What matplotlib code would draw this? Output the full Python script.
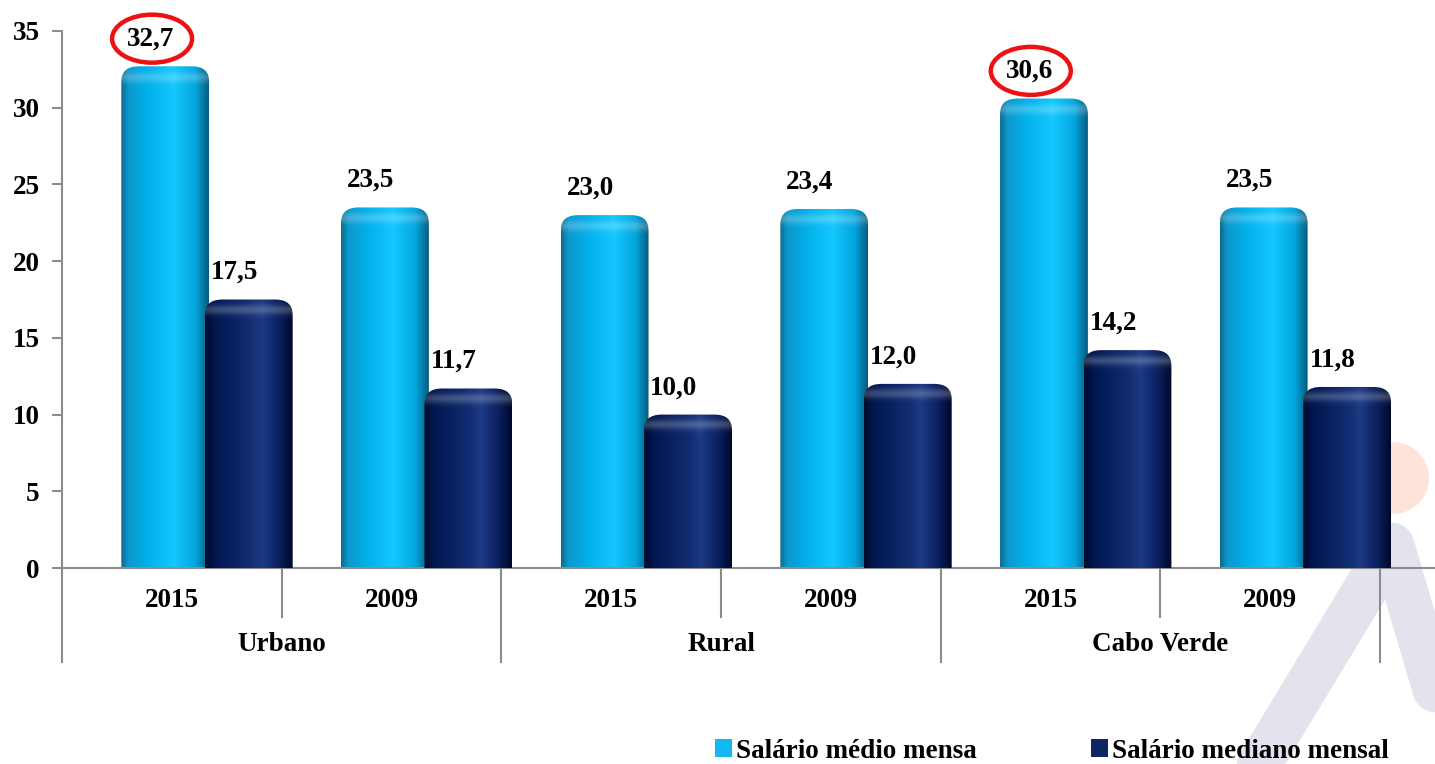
import matplotlib
matplotlib.use('agg')
import matplotlib.pyplot as plt
import numpy as np
from matplotlib.path import Path
from matplotlib.patches import PathPatch, Ellipse, Patch
from matplotlib.colors import to_rgb
from matplotlib.lines import Line2D

years = ['2015', '2009', '2015', '2009', '2015', '2009']
regions = ['Urbano', 'Rural', 'Cabo Verde']
medio = [32.7, 23.5, 23.0, 23.4, 30.6, 23.5]
mediano = [17.5, 11.7, 10.0, 12.0, 14.2, 11.8]
circled = [0, 4]  # indices of 'medio' labels with red ring
series_names = ['Salário médio mensa', 'Salário mediano mensal']

plt.rcParams['font.family'] = ['Liberation Serif', 'DejaVu Serif']
plt.rcParams['font.weight'] = 'bold'
FS = 19.5

LIGHT_STOPS = [(0.0, '#0b6c90'), (0.08, '#0c98cc'), (0.3, '#02b0ea'),
               (0.6, '#14c8ff'), (0.85, '#03a6de'), (1.0, '#065c7e')]
DARK_STOPS = [(0.0, '#000a2a'), (0.1, '#00164e'), (0.5, '#112c70'),
              (0.65, '#1c3a84'), (0.85, '#0a1f5e'), (1.0, '#00092a')]

PX_PER_UNIT = 537 / 35.0


def gradient(stops, n=120):
    t = np.linspace(0, 1, n)
    pos = [s[0] for s in stops]
    cols = np.array([to_rgb(s[1]) for s in stops])
    return np.stack([np.interp(t, pos, cols[:, k]) for k in range(3)], axis=1)


def rounded_path(x0, x1, top, rx=0.08, ry=1.0):
    verts = [(x0, 0), (x0, top - ry), (x0, top), (x0 + rx, top),
             (x1 - rx, top), (x1, top), (x1, top - ry), (x1, 0), (x0, 0)]
    codes = [Path.MOVETO, Path.LINETO, Path.CURVE3, Path.CURVE3,
             Path.LINETO, Path.CURVE3, Path.CURVE3, Path.LINETO, Path.CLOSEPOLY]
    return Path(verts, codes)


def cylinderize(ax, bars, stops, z):
    row = gradient(stops)
    for b in bars:
        x0 = b.get_x()
        w = b.get_width()
        h = b.get_height()
        b.set_visible(False)
        ny = 200
        ys = np.linspace(h, 0, ny)
        dpx = (h - ys) * PX_PER_UNIT
        hl = 0.22 * np.exp(-((dpx - 10) / 5.0) ** 2)
        img = row[None, :, :] * (1 - hl[:, None, None]) + hl[:, None, None]
        patch = PathPatch(rounded_path(x0, x0 + w, h), facecolor='none',
                          edgecolor='none', transform=ax.transData)
        ax.add_patch(patch)
        im = ax.imshow(img, extent=[x0, x0 + w, 0, h], aspect='auto',
                       zorder=z, interpolation='bilinear')
        im.set_clip_path(patch)


fig = plt.figure(figsize=(14.35, 7.64), dpi=100)

# faint watermark behind the chart
fig.add_artist(Ellipse((1393 / 1435, 1 - 478 / 764), 72 / 1435, 72 / 764,
                       transform=fig.transFigure, facecolor='#fde4d8',
                       edgecolor='none', zorder=-5))
wm_x = np.array([1256, 1392, 1435]) / 1435
wm_y = 1 - np.array([770, 545, 690]) / 764
fig.add_artist(Line2D(wm_x, wm_y, transform=fig.transFigure, color='#e3e3ed',
                      linewidth=32, solid_capstyle='round', solid_joinstyle='round',
                      zorder=-5))

ax = fig.add_axes([62 / 1435, 196 / 764, 1 - 62 / 1435, 537 / 764])
ax.set_facecolor('none')

x = np.arange(len(years))
w = 0.40
b1 = ax.bar(x - 0.03, medio, w)
b2 = ax.bar(x + 0.35, mediano, w)
cylinderize(ax, b1, LIGHT_STOPS, 2)
cylinderize(ax, b2, DARK_STOPS, 3)

ax.set_xlim(-0.5, 5.75)
ax.set_ylim(0, 35)

for i, v in enumerate(medio):
    ax.text(i - 0.03 - 0.065, v + 1.75, '{:.1f}'.format(v).replace('.', ','),
            ha='center', va='center', fontsize=FS, fontweight='bold', zorder=5)
for i, v in enumerate(mediano):
    ax.text(i + 0.35 - 0.065, v + 1.75, '{:.1f}'.format(v).replace('.', ','),
            ha='center', va='center', fontsize=FS, fontweight='bold', zorder=5)
for i in circled:
    ax.add_patch(Ellipse((i - 0.03 - 0.065 + 0.005, medio[i] + 1.8),
                         80 / 219.7, 48 / PX_PER_UNIT, facecolor='none',
                         edgecolor='#ee1111', linewidth=3.2, zorder=6, clip_on=False))

# axes styling
for s in ['top', 'right']:
    ax.spines[s].set_visible(False)
ax.spines['left'].set_color('#8c8c8c')
ax.spines['bottom'].set_color('#8c8c8c')
ax.spines['left'].set_linewidth(1.5)
ax.spines['bottom'].set_linewidth(1.5)
ax.set_yticks(np.arange(0, 36, 5))
ax.tick_params(axis='y', length=7, width=1.5, color='#8c8c8c', pad=9, labelsize=FS)
for lab in ax.get_yticklabels():
    lab.set_fontweight('bold')
ax.set_xticks([])

# multi-level category axis
trans = ax.get_xaxis_transform()
for i, yr in enumerate(years):
    ax.text(i, -0.06, yr, transform=trans, ha='center', va='center',
            fontsize=FS, fontweight='bold')
for k, r in enumerate(regions):
    ax.text(2 * k + 0.5, -0.143, r, transform=trans, ha='center', va='center',
            fontsize=FS, fontweight='bold')
for xs in [0.5, 2.5, 4.5]:
    ax.plot([xs, xs], [0, -0.092], transform=trans, color='#8c8c8c',
            linewidth=1.5, clip_on=False)
for xs in [-0.5, 1.5, 3.5, 5.5]:
    ax.plot([xs, xs], [0, -0.175], transform=trans, color='#8c8c8c',
            linewidth=1.5, clip_on=False)

handles = [Patch(facecolor='#14b8f0', edgecolor='none'),
           Patch(facecolor='#0d2560', edgecolor='none')]
fig.legend(handles, series_names, loc='center', bbox_to_anchor=(0.733, 0.017),
           ncol=2, frameon=False, handlelength=0.65, handleheight=0.65,
           handletextpad=0.15, columnspacing=4.2,
           prop={'size': FS, 'weight': 'bold'})

fig.savefig('out.png', dpi=100)
